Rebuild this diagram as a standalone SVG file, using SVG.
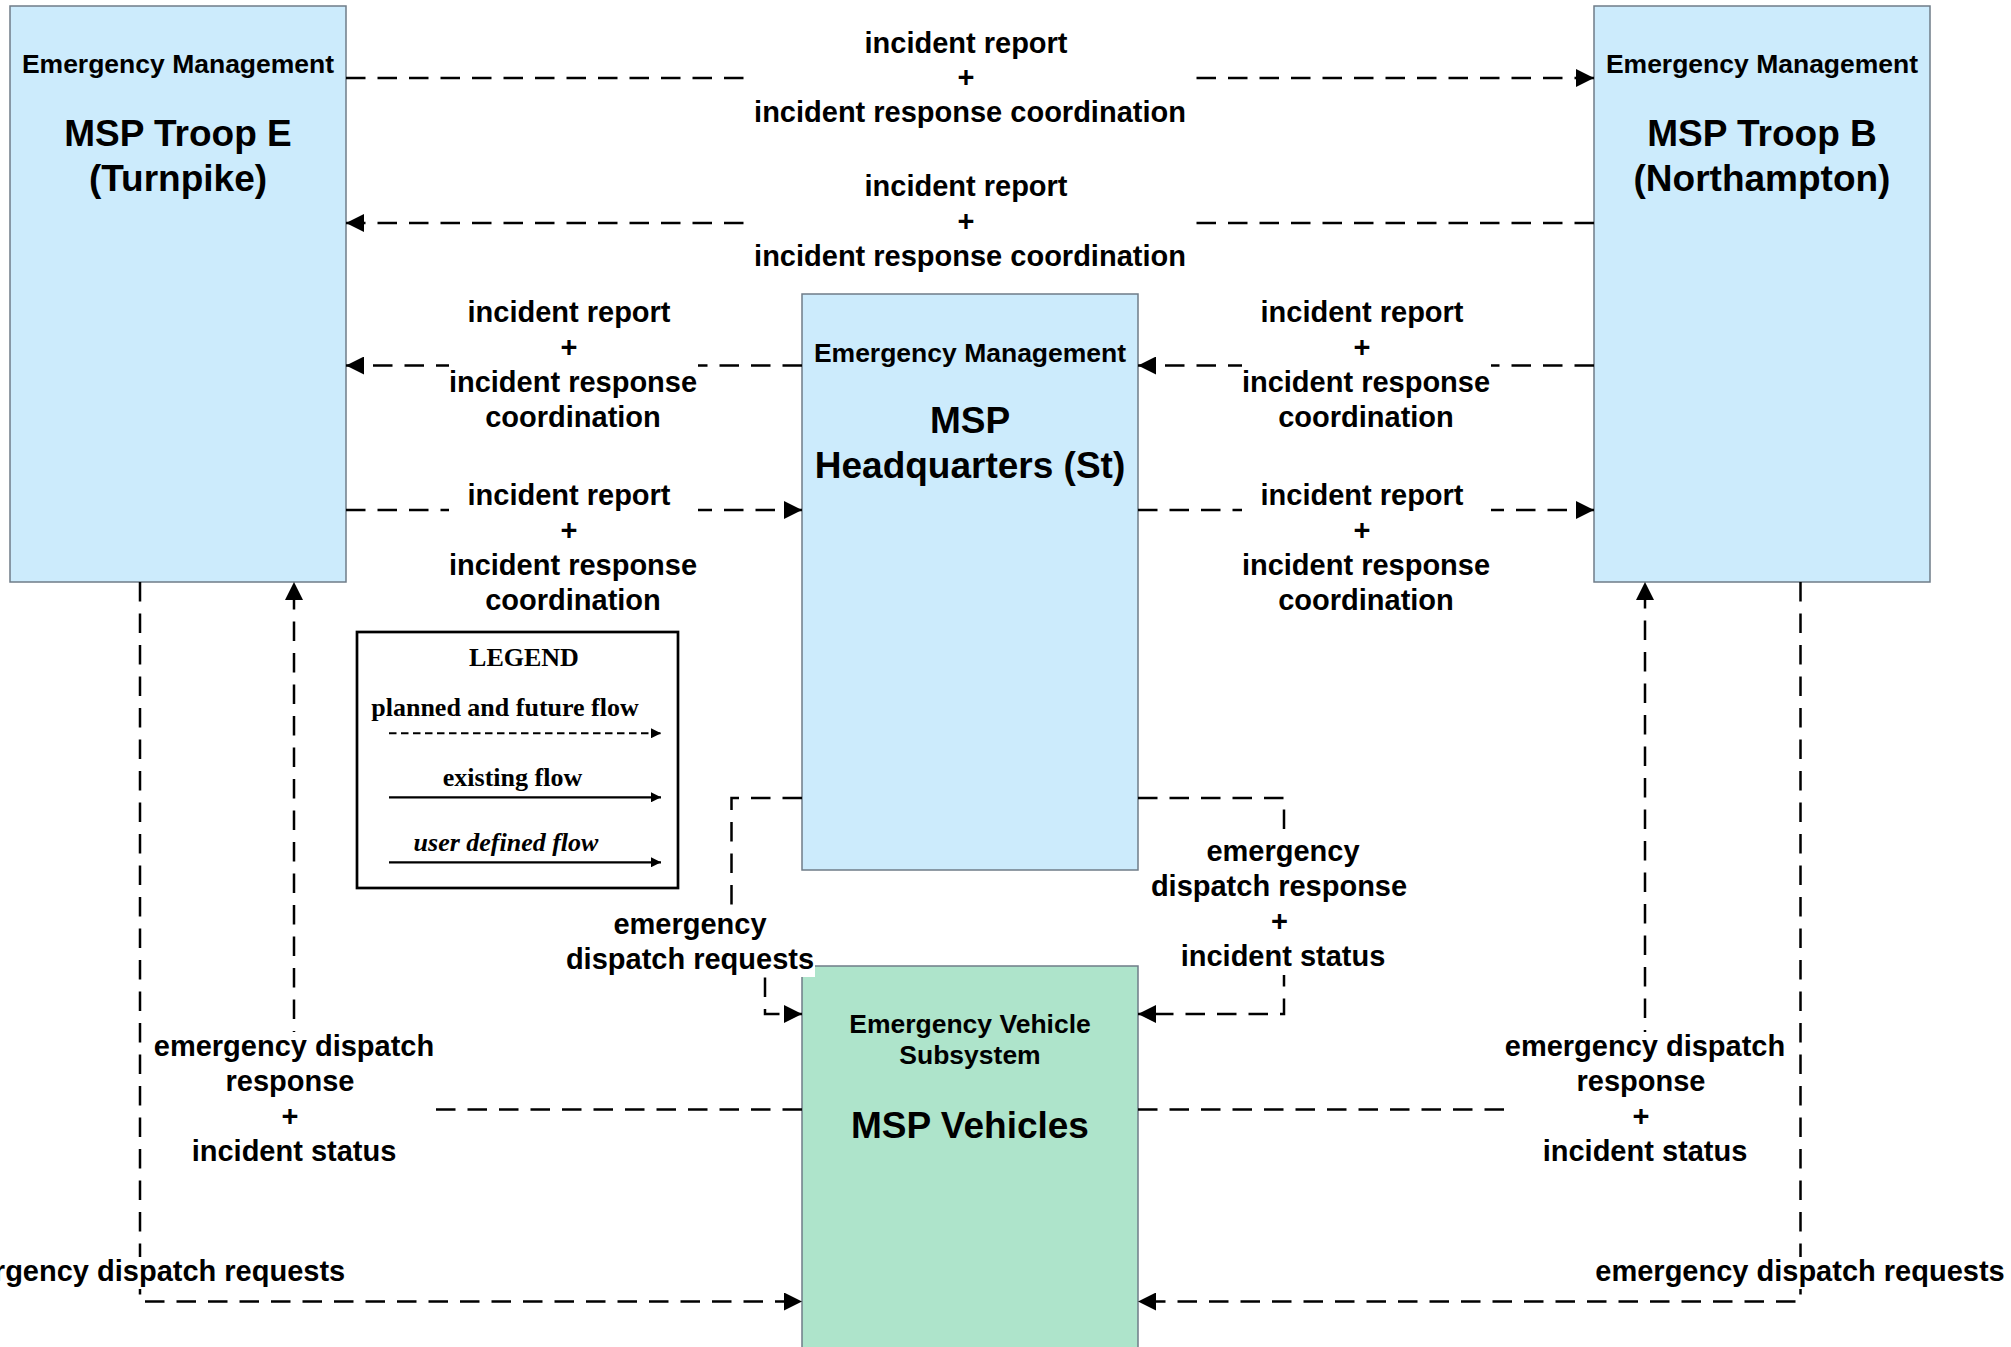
<svg xmlns="http://www.w3.org/2000/svg" width="2011" height="1347" viewBox="0 0 2011 1347">
<defs>
<style>
.box{fill:#CCEBFC;stroke:#6F7C88;stroke-width:1.5}
.veh{fill:#AEE4CB;stroke:#6F7C88;stroke-width:1.5}
.t{font-family:"Liberation Sans",Arial,sans-serif;font-weight:bold;fill:#000;text-anchor:middle}
.s{font-size:26.5px}
.b{font-size:37px}
.l{font-size:29px}
.bg{fill:#fff;stroke:none}
.c{fill:none;stroke:#000;stroke-width:2.5;stroke-dasharray:19.5 12}
.lg{font-family:"Liberation Serif","Times New Roman",serif;font-weight:bold;font-size:26px;text-anchor:middle;fill:#000}
</style>
<marker id="arr" markerUnits="userSpaceOnUse" markerWidth="18" markerHeight="18" viewBox="0 0 18 18" refX="18" refY="9" orient="auto"><path d="M0,0 L18,9 L0,18 z" fill="#000"/></marker>
<marker id="sarr" markerUnits="userSpaceOnUse" markerWidth="10" markerHeight="10" viewBox="0 0 10 10" refX="10" refY="5" orient="auto"><path d="M0,0 L10,5 L0,10 z" fill="#000"/></marker>
</defs>
<rect width="2011" height="1347" fill="#fff"/>

<g id="troop-e">
<rect class="box" x="10" y="6" width="336" height="576"/>
<text class="t s" x="178" y="73">Emergency Management</text>
<text class="t b" x="178" y="146">MSP Troop E</text>
<text class="t b" x="178" y="191">(Turnpike)</text>
</g>
<g id="troop-b">
<rect class="box" x="1594" y="6" width="336" height="576"/>
<text class="t s" x="1762" y="73">Emergency Management</text>
<text class="t b" x="1762" y="146">MSP Troop B</text>
<text class="t b" x="1762" y="191">(Northampton)</text>
</g>
<g id="hq">
<rect class="box" x="802" y="294" width="336" height="576"/>
<text class="t s" x="970" y="362">Emergency Management</text>
<text class="t b" x="970" y="433">MSP</text>
<text class="t b" x="970" y="478">Headquarters (St)</text>
</g>
<g id="vehicles">
<rect class="veh" x="802" y="966" width="336" height="420"/>
<text class="t s" x="970" y="1033">Emergency Vehicle</text>
<text class="t s" x="970" y="1064">Subsystem</text>
<text class="t b" x="970" y="1138">MSP Vehicles</text>
</g>

<g id="connectors">
<path class="c" d="M346,78 H1594" marker-end="url(#arr)"/>
<path class="c" d="M1594,223 H346" marker-end="url(#arr)"/>
<path class="c" d="M802,365.5 H346" marker-end="url(#arr)"/>
<path class="c" d="M346,510 H802" marker-end="url(#arr)"/>
<path class="c" d="M1594,365.5 H1138" marker-end="url(#arr)"/>
<path class="c" d="M1138,510 H1594" marker-end="url(#arr)"/>
<path class="c" d="M802,1109.5 H294 V582" marker-end="url(#arr)"/>
<path class="c" d="M1138,1109.5 H1645 V582" marker-end="url(#arr)"/>
<path class="c" d="M802,798 H731.5 V940 H765 V1014 H802" marker-end="url(#arr)"/>
<path class="c" d="M1138,798 H1284 V1014 H1138" marker-end="url(#arr)"/>
<path class="c" d="M140,582 V1301.5 H802" marker-end="url(#arr)"/>
<path class="c" d="M1800.5,582 V1301.5 H1138" marker-end="url(#arr)"/>
</g>

<g id="labels">
<g id="lbl1">
<rect class="bg" x="751" y="30" width="438" height="99"/>
<text class="t l" x="966" y="52.5">incident report</text>
<text class="t l" x="966" y="87">+</text>
<text class="t l" x="970" y="121.5">incident response coordination</text>
</g>
<g id="lbl2">
<rect class="bg" x="751" y="174" width="438" height="99"/>
<text class="t l" x="966" y="196">incident report</text>
<text class="t l" x="966" y="231">+</text>
<text class="t l" x="970" y="266">incident response coordination</text>
</g>
<g id="lbl3">
<rect class="bg" x="449" y="299" width="249" height="135"/>
<text class="t l" x="569" y="321.5">incident report</text>
<text class="t l" x="569" y="356.5">+</text>
<text class="t l" x="573" y="391.5">incident response</text>
<text class="t l" x="573" y="426.5">coordination</text>
</g>
<g id="lbl4">
<rect class="bg" x="449" y="483" width="249" height="135"/>
<text class="t l" x="569" y="505">incident report</text>
<text class="t l" x="569" y="540">+</text>
<text class="t l" x="573" y="575">incident response</text>
<text class="t l" x="573" y="610">coordination</text>
</g>
<g id="lbl5">
<rect class="bg" x="1242" y="299" width="249" height="135"/>
<text class="t l" x="1362" y="321.5">incident report</text>
<text class="t l" x="1362" y="356.5">+</text>
<text class="t l" x="1366" y="391.5">incident response</text>
<text class="t l" x="1366" y="426.5">coordination</text>
</g>
<g id="lbl6">
<rect class="bg" x="1242" y="483" width="249" height="135"/>
<text class="t l" x="1362" y="505">incident report</text>
<text class="t l" x="1362" y="540">+</text>
<text class="t l" x="1366" y="575">incident response</text>
<text class="t l" x="1366" y="610">coordination</text>
</g>
<g id="lbl7">
<rect class="bg" x="153" y="1032" width="282" height="136"/>
<text class="t l" x="294" y="1055.5">emergency dispatch</text>
<text class="t l" x="290" y="1090.5">response</text>
<text class="t l" x="290" y="1125.5">+</text>
<text class="t l" x="294" y="1160.5">incident status</text>
</g>
<g id="lbl8">
<rect class="bg" x="1504" y="1032" width="282" height="136"/>
<text class="t l" x="1645" y="1055.5">emergency dispatch</text>
<text class="t l" x="1641" y="1090.5">response</text>
<text class="t l" x="1641" y="1125.5">+</text>
<text class="t l" x="1645" y="1160.5">incident status</text>
</g>
<g id="lbl9">
<rect class="bg" x="565" y="906" width="250" height="71"/>
<text class="t l" x="690" y="934">emergency</text>
<text class="t l" x="690" y="969">dispatch requests</text>
</g>
<g id="lbl10">
<rect class="bg" x="1150" y="833" width="258" height="142"/>
<text class="t l" x="1283" y="861">emergency</text>
<text class="t l" x="1279" y="896">dispatch response</text>
<text class="t l" x="1279.5" y="931">+</text>
<text class="t l" x="1283" y="966">incident status</text>
</g>
<g id="lbl11">
<rect class="bg" x="-70" y="1257" width="416" height="32"/>
<text class="t l" x="140.5" y="1280.5">emergency dispatch requests</text>
</g>
<g id="lbl12">
<rect class="bg" x="1594" y="1257" width="414" height="32"/>
<text class="t l" x="1800" y="1280.5">emergency dispatch requests</text>
</g>
</g>

<g id="legend">
<rect x="357" y="632" width="321" height="256" fill="#fff" stroke="#000" stroke-width="2.7"/>
<text class="lg" x="524" y="665.5">LEGEND</text>
<text class="lg" x="505" y="715.5">planned and future flow</text>
<path d="M389,733.3 H661" stroke="#000" stroke-width="2" stroke-dasharray="7.5 4.5" fill="none" marker-end="url(#sarr)"/>
<text class="lg" x="512.5" y="785.5">existing flow</text>
<path d="M389,797.3 H661" stroke="#000" stroke-width="2.3" fill="none" marker-end="url(#sarr)"/>
<text class="lg" x="506" y="851" font-style="italic">user defined flow</text>
<path d="M389,862.3 H661" stroke="#000" stroke-width="2.3" fill="none" marker-end="url(#sarr)"/>
</g>
</svg>
